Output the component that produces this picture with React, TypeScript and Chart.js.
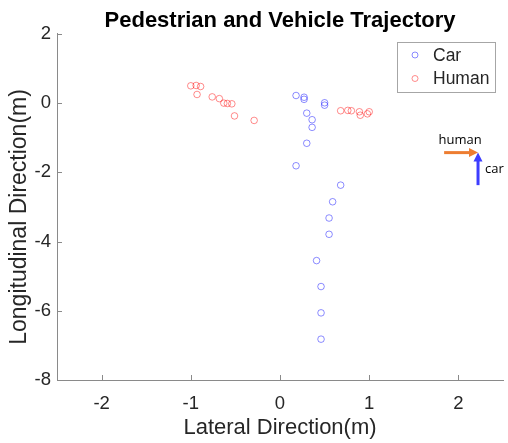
import React, { useEffect, useRef } from 'react';
import { Chart, registerables } from 'chart.js';

Chart.register(...registerables);

// ---- data ----
const seriesLabels = ['Car', 'Human'];

const carX = [0.18, 0.27, 0.27, 0.5, 0.5, 0.3, 0.36, 0.36, 0.3, 0.18, 0.68, 0.59, 0.55, 0.55, 0.41, 0.46, 0.46, 0.46];
const carY = [0.22, 0.17, 0.11, 0.01, -0.06, -0.29, -0.48, -0.7, -1.16, -1.81, -2.37, -2.85, -3.32, -3.79, -4.55, -5.3, -6.06, -6.82];

const humanX = [-1.0, -0.94, -0.89, -0.93, -0.76, -0.68, -0.63, -0.59, -0.54, -0.51, -0.29, 0.68, 0.76, 0.8, 0.89, 0.9, 0.98, 1.0];
const humanY = [0.5, 0.51, 0.48, 0.25, 0.18, 0.13, 0.0, -0.01, -0.02, -0.37, -0.5, -0.22, -0.21, -0.22, -0.25, -0.35, -0.31, -0.25];

const xTicks = [-2, -1, 0, 1, 2];
const yTicks = [-8, -6, -4, -2, 0, 2];

// annotation arrows (data coordinates)
const arrowTipX = 2.22;
const arrowTipY = -1.43;
const humanArrowStartX = 1.84;
const carArrowStartY = -2.37;
const humanArrowLabel = 'human';
const carArrowLabel = 'car';

const FONT = '"Liberation Sans", Arial, Helvetica, sans-serif';
const AXIS_COLOR = '#8a8a8a';
const TEXT_COLOR = '#262626';

const inwardTicks = {
  id: 'inwardTicks',
  afterDatasetsDraw(chart: any) {
    const { ctx, chartArea, scales } = chart;
    ctx.save();
    ctx.strokeStyle = AXIS_COLOR;
    ctx.lineWidth = 1;
    for (const v of xTicks) {
      const px = Math.round(scales.x.getPixelForValue(v)) + 0.5;
      ctx.beginPath();
      ctx.moveTo(px, chartArea.bottom);
      ctx.lineTo(px, chartArea.bottom - 5);
      ctx.stroke();
    }
    for (const v of yTicks) {
      const py = Math.round(scales.y.getPixelForValue(v)) + 0.5;
      ctx.beginPath();
      ctx.moveTo(chartArea.left, py);
      ctx.lineTo(chartArea.left + 5, py);
      ctx.stroke();
    }
    ctx.restore();
  },
};

const boxLegend = {
  id: 'boxLegend',
  afterDraw(chart: any) {
    const { ctx, chartArea } = chart;
    const w = 98;
    const h = 50;
    const x0 = Math.round(chartArea.right - 8 - w);
    const y0 = Math.round(chartArea.top + 8);
    ctx.save();
    ctx.fillStyle = '#ffffff';
    ctx.fillRect(x0, y0, w, h);
    ctx.strokeStyle = '#a6a6a6';
    ctx.lineWidth = 1;
    ctx.strokeRect(x0 + 0.5, y0 + 0.5, w, h);
    chart.data.datasets.forEach((ds: any, i: number) => {
      const cy = y0 + 13 + i * 23.5;
      ctx.beginPath();
      ctx.arc(x0 + 18, cy, 3, 0, Math.PI * 2);
      ctx.strokeStyle = ds.borderColor;
      ctx.lineWidth = 1;
      ctx.stroke();
      ctx.fillStyle = TEXT_COLOR;
      ctx.font = `17.5px ${FONT}`;
      ctx.textBaseline = 'middle';
      ctx.textAlign = 'left';
      ctx.fillText(ds.label, x0 + 36, cy + 1);
    });
    ctx.restore();
  },
};

const arrows = {
  id: 'arrows',
  afterDraw(chart: any) {
    const { ctx, scales } = chart;
    const tx = scales.x.getPixelForValue(arrowTipX);
    const ty = scales.y.getPixelForValue(arrowTipY);
    const hx = scales.x.getPixelForValue(humanArrowStartX);
    const cy = scales.y.getPixelForValue(carArrowStartY);
    ctx.save();
    // orange (human) arrow
    ctx.strokeStyle = '#ed7d31';
    ctx.fillStyle = '#ed7d31';
    ctx.lineWidth = 3;
    ctx.beginPath();
    ctx.moveTo(hx, ty);
    ctx.lineTo(tx - 7, ty);
    ctx.stroke();
    ctx.beginPath();
    ctx.moveTo(tx, ty);
    ctx.lineTo(tx - 9, ty - 4.5);
    ctx.lineTo(tx - 9, ty + 4.5);
    ctx.closePath();
    ctx.fill();
    // blue (car) arrow
    ctx.strokeStyle = '#3d3dff';
    ctx.fillStyle = '#3d3dff';
    ctx.beginPath();
    ctx.moveTo(tx, cy);
    ctx.lineTo(tx, ty + 7);
    ctx.stroke();
    ctx.beginPath();
    ctx.moveTo(tx, ty);
    ctx.lineTo(tx - 4.5, ty + 9);
    ctx.lineTo(tx + 4.5, ty + 9);
    ctx.closePath();
    ctx.fill();
    // labels
    ctx.fillStyle = '#000000';
    ctx.font = '13px "Open Sans", "Noto Sans", sans-serif';
    ctx.textBaseline = 'middle';
    ctx.textAlign = 'center';
    ctx.fillText(humanArrowLabel, tx - 18, ty - 12);
    ctx.textAlign = 'left';
    ctx.fillText(carArrowLabel, tx + 7, ty + 17);
    ctx.restore();
  },
};

export default function App() {
  const ref = useRef<HTMLCanvasElement | null>(null);

  useEffect(() => {
    if (!ref.current) return;
    const colors = ['rgba(0,0,255,0.45)', 'rgba(255,0,0,0.45)'];
    const chart = new Chart(ref.current, {
      type: 'scatter',
      data: {
        datasets: [
          {
            label: seriesLabels[0],
            data: carX.map((x, i) => ({ x, y: carY[i] })),
            borderColor: colors[0],
            backgroundColor: 'rgba(0,0,0,0)',
            pointRadius: 3.3,
            borderWidth: 1,
          },
          {
            label: seriesLabels[1],
            data: humanX.map((x, i) => ({ x, y: humanY[i] })),
            borderColor: colors[1],
            backgroundColor: 'rgba(0,0,0,0)',
            pointRadius: 3.3,
            borderWidth: 1,
          },
        ],
      },
      options: {
        animation: false,
        responsive: false,
        maintainAspectRatio: false,
        layout: { padding: { left: 0, right: 2, top: 0, bottom: 0 } },
        plugins: {
          legend: { display: false },
          tooltip: { enabled: false },
          title: {
            display: true,
            fullSize: false,
            text: 'Pedestrian and Vehicle Trajectory',
            color: '#000000',
            font: { family: FONT, size: 22, weight: 'bold' },
            padding: { top: 7.5, bottom: 0 },
          },
        },
        scales: {
          x: {
            type: 'linear',
            min: -2.5,
            max: 2.5,
            grid: { display: false, drawTicks: false },
            border: { display: true, color: AXIS_COLOR, width: 1 },
            afterBuildTicks: (s: any) => {
              s.ticks = xTicks.map((v) => ({ value: v }));
            },
            afterFit: (s: any) => {
              s.height = 63;
            },
            ticks: {
              color: TEXT_COLOR,
              font: { family: FONT, size: 18.5 },
              padding: 13,
              maxRotation: 0,
              callback: (v: any) => String(v),
            },
            title: {
              display: true,
              text: 'Lateral Direction(m)',
              color: TEXT_COLOR,
              font: { family: FONT, size: 22 },
              padding: { top: 0, bottom: 2 },
            },
          },
          y: {
            type: 'linear',
            min: -8,
            max: 2,
            grid: { display: false, drawTicks: false },
            border: { display: true, color: AXIS_COLOR, width: 1 },
            afterBuildTicks: (s: any) => {
              s.ticks = yTicks.map((v) => ({ value: v }));
            },
            afterFit: (s: any) => {
              s.width = 57;
              if (!s._shiftedTitle) {
                s._shiftedTitle = true;
                const orig = s.drawTitle.bind(s);
                s.drawTitle = () => {
                  s.ctx.save();
                  s.ctx.translate(0, 10);
                  orig();
                  s.ctx.restore();
                };
              }
            },
            ticks: {
              color: TEXT_COLOR,
              font: { family: FONT, size: 18.5 },
              padding: 6,
              callback: (v: any) => String(v),
            },
            title: {
              display: true,
              text: 'Longitudinal Direction(m)',
              color: TEXT_COLOR,
              font: { family: FONT, size: 23 },
              padding: { top: 6, bottom: 0 },
            },
          },
        },
      },
      plugins: [inwardTicks, boxLegend, arrows],
    });
    return () => chart.destroy();
  }, []);

  return (
    <div style={{ position: 'fixed', left: 0, top: 0, width: 508, height: 443, background: '#fff' }}>
      <canvas ref={ref} width={508} height={443} style={{ display: 'block' }} />
    </div>
  );
}
